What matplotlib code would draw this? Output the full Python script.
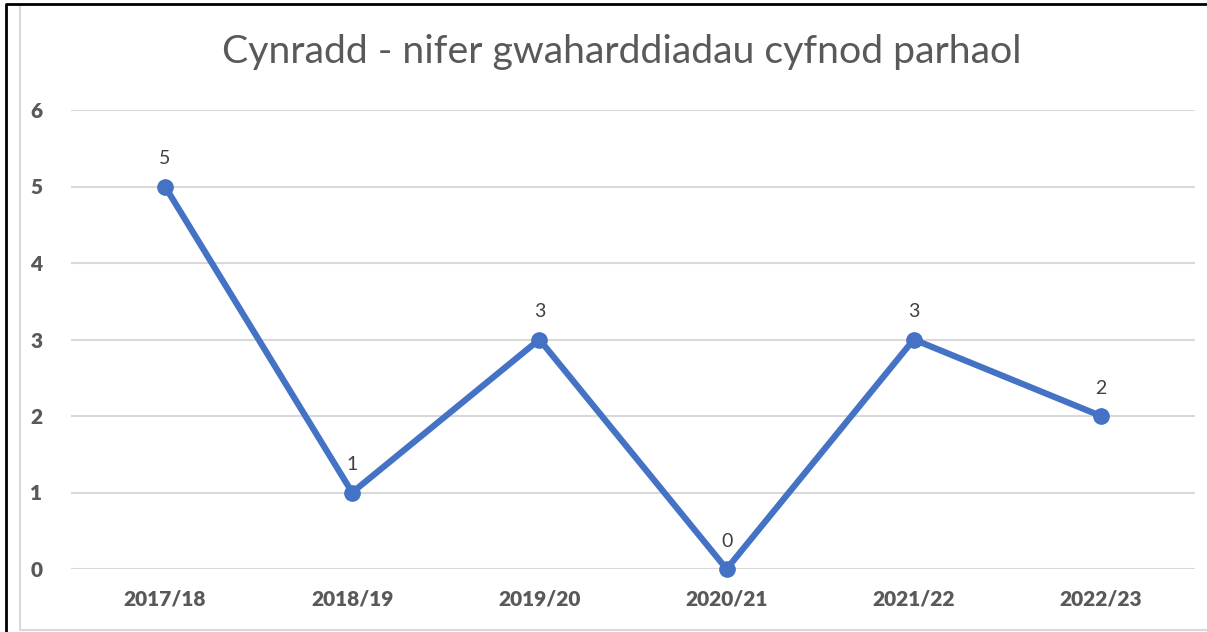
import matplotlib.pyplot as plt
from matplotlib.lines import Line2D

# 数据
years = ["2017/18", "2018/19", "2019/20", "2020/21", "2021/22", "2022/23"]
counts = [5, 1, 3, 0, 3, 2]

plt.rcParams["font.family"] = ["Lato", "DejaVu Sans"]

fig = plt.figure(figsize=(12.07, 6.32), dpi=100, facecolor="white")
ax = fig.add_axes((71.4 / 1207, 1 - 569 / 632, 1123.2 / 1207, 459 / 632))

x = list(range(len(years)))
ax.plot(x, counts, color="#4472C4", linewidth=4.5, marker="o", markersize=11,
        solid_capstyle="round", zorder=3, clip_on=False)

# 数据标签
for xi, v in zip(x, counts):
    ax.annotate(str(v), (xi, v), xytext=(0, 14), textcoords="offset points",
                ha="center", va="bottom", fontsize=14, color="#404040")

ax.set_xlim(-0.5, len(years) - 0.5)
ax.set_ylim(0, 6)
ax.set_yticks(range(0, 7))
ax.set_xticks(x)
ax.set_xticklabels(years)
ax.grid(axis="y", color="#D9D9D9", linewidth=1.5)
ax.set_axisbelow(True)
for s in ax.spines.values():
    s.set_visible(False)
ax.tick_params(length=0, labelsize=15, labelcolor="#595959")
ax.tick_params(axis="y", pad=21)
ax.tick_params(axis="x", pad=15)
for lbl in ax.get_xticklabels() + ax.get_yticklabels():
    lbl.set_fontweight("heavy")

fig.text(622 / 1207, 1 - 52 / 632, "Cynradd - nifer gwaharddiadau cyfnod parhaol",
         ha="center", va="center", fontsize=28.3, color="#595959")

# 边框
fig.add_artist(Line2D([20 / 1207, 20 / 1207, 1.0], [1 - 6 / 632, 1 - 630 / 632, 1 - 630 / 632],
                      color="#D9D9D9", linewidth=1.5, transform=fig.transFigure))
fig.add_artist(Line2D([6 / 1207, 6 / 1207, 1.0], [0, 1 - 4 / 632, 1 - 4 / 632],
                      color="black", linewidth=2, transform=fig.transFigure))

fig.savefig("out.png", dpi=100)
